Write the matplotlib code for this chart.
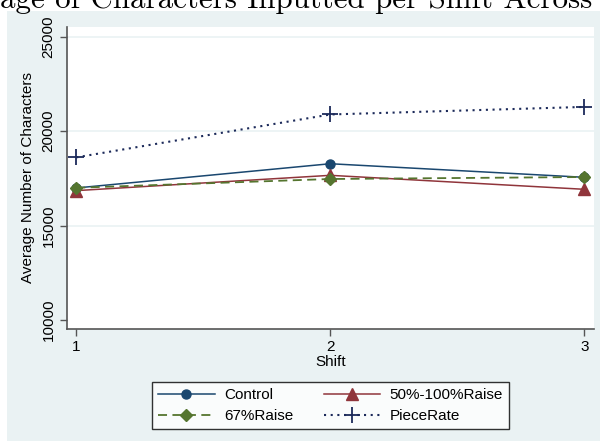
import matplotlib
matplotlib.use("Agg")
import matplotlib.pyplot as plt
from matplotlib.patches import Rectangle

shifts = [1, 2, 3]
control = [16990, 18274, 17555]
raise_50_100 = [16850, 17660, 16920]
raise_67 = [17000, 17466, 17570]
piece_rate = [18611, 20882, 21283]
yticks = [10000, 15000, 20000, 25000]
xticks = [1, 2, 3]

W, H = 600, 441
fig = plt.figure(figsize=(W / 100, H / 100), dpi=100, facecolor="white")
bg = "#EAF2F3"
fig.add_artist(Rectangle((7 / W, 0), 1 - 7 / W, 1 - 11 / H, transform=fig.transFigure,
                         facecolor=bg, edgecolor="none", zorder=-5))

fs = "Liberation Sans"
ax = fig.add_axes([66.8 / W, 1 - 329 / H, (594 - 66.8) / W, (329 - 26.7) / H])
ax.set_facecolor("white")

for g in [15000, 20000, 25000]:
    ax.axhline(g, color=bg, lw=1.2, zorder=1)

navy = "#1a476f"
maroon = "#90353b"
green = "#55752f"
dknavy = "#1c2a5a"

h1, = ax.plot(shifts, control, color=navy, lw=1.1, marker="o", ms=6.5, label="Control", zorder=3)
h2, = ax.plot(shifts, raise_50_100, color=maroon, lw=1.1, marker="^", ms=8, label="50%-100%Raise", zorder=3)
h3, = ax.plot(shifts, raise_67, color=green, lw=1.3, ls=(0, (5, 3)), marker="D", ms=6.5, label="67%Raise", zorder=4)
h4, = ax.plot(shifts, piece_rate, color=dknavy, lw=1.5, ls=(0, (1, 2.2)), marker="+", ms=11, mew=1.3,
              label="PieceRate", zorder=3)

ax.set_xlim(0.963, 3.038)
ax.set_ylim(9523, 25530)
ax.set_xticks(xticks)
ax.set_yticks(yticks)
ax.set_xticklabels([str(v) for v in xticks], fontfamily=fs, fontsize=11)
ax.set_yticklabels([str(v) for v in yticks], fontfamily=fs, fontsize=11, rotation=90, va="center")
ax.tick_params(axis="both", direction="out", length=5, width=1, color="#555555", pad=3)

for s in ["top", "right"]:
    ax.spines[s].set_visible(False)
for s in ["left", "bottom"]:
    ax.spines[s].set_color("#555555")
    ax.spines[s].set_linewidth(1.2)

ax.set_xlabel("Shift", fontfamily=fs, fontsize=11, labelpad=1)
ax.set_ylabel("Average Number of Characters", fontfamily=fs, fontsize=11, labelpad=5)

handles = [h1, h3, h2, h4]
leg = fig.legend(handles, [h.get_label() for h in handles], loc="lower left",
                 bbox_to_anchor=(152 / W, 1 - 429 / H, (509 - 152) / W, (429 - 379) / H),
                 mode="expand", ncol=2, frameon=True, fancybox=False, handlelength=3.7,
                 handletextpad=0.6, prop={"family": fs, "size": 11}, borderpad=0.4,
                 labelspacing=0.45, columnspacing=1.5, borderaxespad=0)
leg.get_frame().set_edgecolor("black")
leg.get_frame().set_linewidth(1)

fig.text(0, 1 - 8 / H, "age of Characters Inputted per Shift Across", fontfamily="cmr10",
         fontsize=22.3, ha="left", va="baseline")

fig.savefig("out.png", dpi=100, facecolor=fig.get_facecolor())
